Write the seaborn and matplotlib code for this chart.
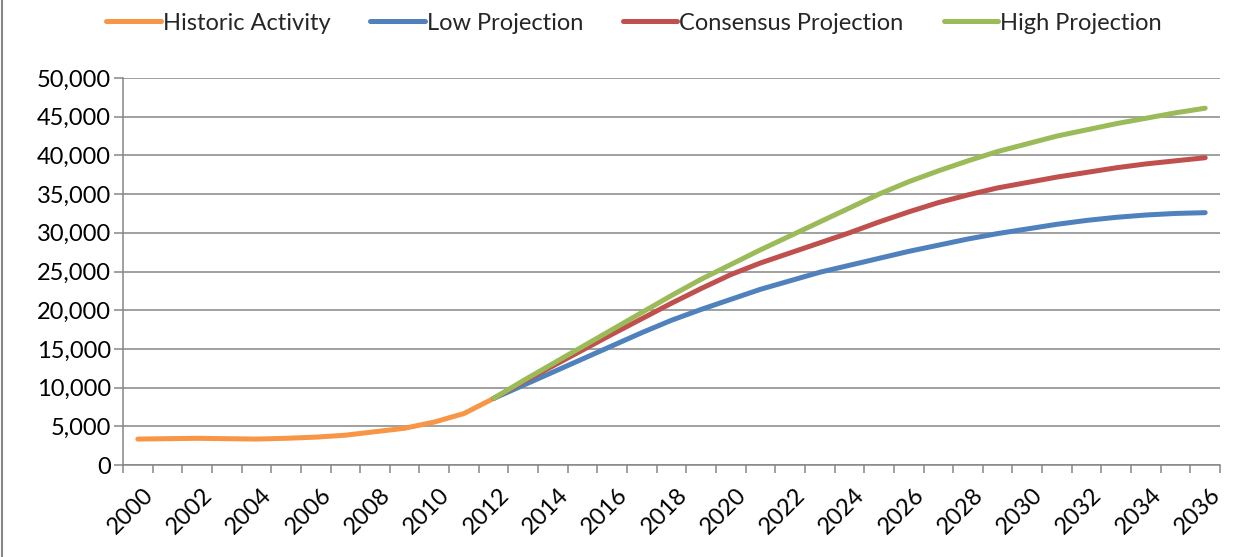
import matplotlib
matplotlib.use("Agg")
import matplotlib.pyplot as plt
import matplotlib.transforms as mtransforms
from matplotlib.lines import Line2D
from matplotlib.ticker import MultipleLocator, FixedLocator, FuncFormatter
import seaborn as sns

# Annual activity, historic and projected
hist_years = list(range(2000, 2013))
historic = [3350, 3400, 3450, 3400, 3350, 3450, 3600, 3850, 4300, 4750, 5550, 6650, 8600]

proj_years = list(range(2012, 2037))
low = [8600, 10300, 12000, 13700, 15400, 17100, 18700, 20100, 21400, 22700,
       23800, 24900, 25800, 26700, 27600, 28400, 29200, 29900, 30500, 31100,
       31600, 32000, 32300, 32500, 32600]
consensus = [8600, 10750, 12800, 14850, 16900, 18900, 20900, 22800, 24600, 26100,
             27400, 28700, 30000, 31400, 32700, 33900, 34900, 35800, 36500, 37200,
             37800, 38400, 38900, 39300, 39700]
high = [8600, 10900, 13100, 15300, 17500, 19700, 21900, 24000, 25900, 27800,
        29600, 31400, 33200, 35000, 36600, 38000, 39300, 40500, 41500, 42500,
        43300, 44100, 44800, 45500, 46100]

series_labels = ["Historic Activity", "Low Projection", "Consensus Projection", "High Projection"]
series_colors = ["#F79646", "#4F81BD", "#C0504D", "#9BBB59"]
label_years = list(range(2000, 2037, 2))

sns.set_style("white")
plt.rcParams["font.family"] = ["Lato", "DejaVu Sans"]
FS = 17
GRID = "#868686"

W, H = 1251, 557
fig = plt.figure(figsize=(W / 100, H / 100), dpi=100)
ax = fig.add_axes([123 / W, 1 - 465 / H, (1220 - 123) / W, (465 - 78) / H])

line_kw = dict(linewidth=3.6, solid_capstyle="round", ax=ax, legend=False)
sns.lineplot(x=hist_years, y=historic, color=series_colors[0], **line_kw)
sns.lineplot(x=proj_years, y=low, color=series_colors[1], **line_kw)
sns.lineplot(x=proj_years, y=consensus, color=series_colors[2], **line_kw)
sns.lineplot(x=proj_years, y=high, color=series_colors[3], **line_kw)

ax.set_xlim(1999.5, 2036.5)
ax.set_ylim(0, 50000)
ax.set_xlabel("")
ax.set_ylabel("")

# value axis
ax.yaxis.set_major_locator(MultipleLocator(5000))
ax.yaxis.set_major_formatter(FuncFormatter(lambda v, p: f"{v:,.0f}"))
ax.grid(axis="y", color=GRID, linewidth=1.1)
ax.grid(axis="x", visible=False)
ax.set_axisbelow(True)
ax.tick_params(axis="y", length=6.5, width=1.1, color=GRID, pad=2,
               labelsize=FS, labelcolor="black", left=True)

# category axis: marks between categories, labels on every other year
ax.xaxis.set_major_locator(FixedLocator(label_years))
ax.xaxis.set_minor_locator(FixedLocator([y - 0.5 for y in range(2000, 2038)]))
ax.tick_params(axis="x", which="major", length=0, pad=19, labelsize=FS, labelcolor="black")
ax.tick_params(axis="x", which="minor", length=6, width=1.1, color=GRID, bottom=True)

for side in ("top", "right"):
    ax.spines[side].set_visible(False)
for side in ("left", "bottom"):
    ax.spines[side].set_color(GRID)
    ax.spines[side].set_linewidth(1.1)

shift = mtransforms.ScaledTranslation(0.12, 0.0, fig.dpi_scale_trans)
for lab in ax.get_xticklabels():
    lab.set_rotation(45)
    lab.set_ha("right")
    lab.set_va("center")
    lab.set_rotation_mode("anchor")
    lab.set_transform(lab.get_transform() + shift)

handles = [Line2D([], [], color=c, linewidth=3.6, solid_capstyle="round") for c in series_colors]
fig.legend(handles, series_labels, loc="center", bbox_to_anchor=(634 / W, 1 - 23 / H),
           ncol=4, frameon=False, fontsize=FS, handlelength=2.3,
           handletextpad=0.08, columnspacing=1.7)

# chart area border on the left edge
fig.add_artist(Line2D([2 / W, 2 / W], [0, 1], transform=fig.transFigure,
                      color=GRID, linewidth=1.5))

fig.savefig("out.png", dpi=100)
